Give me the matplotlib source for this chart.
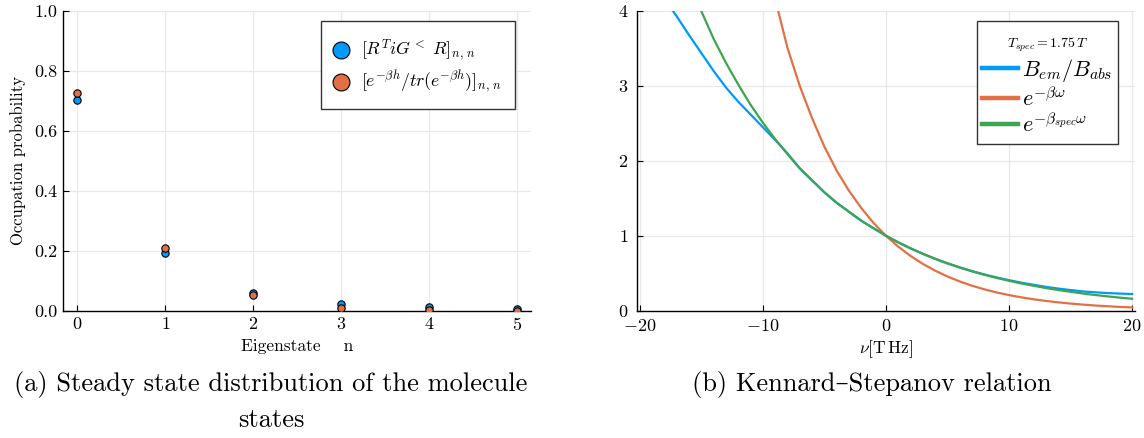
import numpy as np
import matplotlib.pyplot as plt
from matplotlib.patches import Rectangle

plt.rcParams['font.family'] = ['cmr10', 'DejaVu Serif']
plt.rcParams['mathtext.fontset'] = 'cm'
plt.rcParams['axes.formatter.use_mathtext'] = True

# occupation of the molecular eigenstates
states = [0, 1, 2, 3, 4, 5]
occ_green = [0.703, 0.194, 0.059, 0.021, 0.011, 0.007]
occ_boltz = [0.728, 0.209, 0.052, 0.010, 0.001, 0.0002]

# Kennard-Stepanov ratio vs frequency (THz)
nu_b = [-17.3, -17, -16, -15, -14, -13, -12, -11, -10, -9, -8, -7, -6, -5, -4, -3, -2, -1,
        0, 1, 2, 3, 4, 5, 6, 7, 8, 9, 10, 11, 12, 13, 14, 15, 16, 17, 18, 19, 20]
b_ratio = [4.0, 3.93, 3.68, 3.44, 3.20, 2.98, 2.79, 2.62, 2.45, 2.28, 2.10, 1.90, 1.74, 1.58,
           1.44, 1.32, 1.20, 1.10, 1.0, 0.912, 0.832, 0.759, 0.692, 0.632, 0.578, 0.528, 0.483,
           0.443, 0.407, 0.374, 0.345, 0.318, 0.295, 0.275, 0.257, 0.245, 0.235, 0.228, 0.222]

nu_o = [-8.75, -8, -7, -6, -5, -4, -3, -2, -1, 0, 1, 2, 3, 4, 5, 6, 7, 8, 9, 10,
        11, 12, 13, 14, 15, 16, 17, 18, 19, 20]
boltz = [4.0, 3.51, 3.00, 2.57, 2.19, 1.87, 1.60, 1.37, 1.17, 1.0, 0.855, 0.731, 0.625, 0.534,
         0.456, 0.390, 0.333, 0.285, 0.243, 0.208, 0.178, 0.152, 0.130, 0.111, 0.095, 0.081,
         0.069, 0.059, 0.050, 0.043]

nu_g = [-15, -14, -13, -12, -11, -10, -9, -8, -7, -6, -5, -4, -3, -2, -1, 0, 1, 2, 3, 4, 5,
        6, 7, 8, 9, 10, 11, 12, 13, 14, 15, 16, 17, 18, 19, 20]
boltz_spec = [4.0, 3.63, 3.31, 3.02, 2.75, 2.51, 2.29, 2.09, 1.90, 1.74, 1.58, 1.44, 1.32, 1.20,
              1.10, 1.0, 0.912, 0.832, 0.759, 0.692, 0.631, 0.576, 0.525, 0.479, 0.437, 0.399,
              0.363, 0.332, 0.302, 0.276, 0.252, 0.229, 0.209, 0.191, 0.174, 0.159]

c_blue = '#009AFA'
c_orange = '#E36F47'
c_green = '#3EA44E'

fig = plt.figure(figsize=(11.44, 4.38), dpi=100)
ax1 = fig.add_axes([0.0553, 0.2907, 0.4086, 0.6842])
ax2 = fig.add_axes([0.5566, 0.2907, 0.4356, 0.6842])


def style(ax):
    for s in ['top', 'right']:
        ax.spines[s].set_visible(False)
    for s in ['left', 'bottom']:
        ax.spines[s].set_linewidth(1.0)
    ax.grid(True, color='#e8e8e8', linewidth=0.9)
    ax.set_axisbelow(True)
    ax.tick_params(direction='in', length=4, width=0.8, labelsize=13, pad=4)


def legend_box(ax, x0, y0, x1, y1):
    # plain square frame behind a frameless legend
    ax.add_patch(Rectangle((x0, y0), x1 - x0, y1 - y0, transform=ax.transAxes,
                           facecolor='white', edgecolor='#333333', linewidth=1.0,
                           clip_on=False, zorder=4.5))


style(ax1)
ax1.scatter(states, occ_green, s=28, color=c_blue, edgecolor='black', linewidth=0.8,
            zorder=3, label=r'$[R^T iG^<\ R]_{n,\,n}$')
ax1.scatter(states, occ_boltz, s=28, color=c_orange, edgecolor='black', linewidth=0.8,
            zorder=3, label=r'$[e^{-\beta h}/tr(e^{-\beta h})]_{n,\,n}$')
ax1.set_xlim(-0.16, 5.15)
ax1.set_ylim(0, 1)
ax1.set_xticks(states)
ax1.set_yticks([0.0, 0.2, 0.4, 0.6, 0.8, 1.0])
ax1.set_yticklabels(['0.0', '0.2', '0.4', '0.6', '0.8', '1.0'])
ax1.set_xlabel('Eigenstate    n', fontsize=12.5, labelpad=4)
ax1.set_ylabel('Occupation probability', fontsize=12, labelpad=6)
legend_box(ax1, 0.551, 0.673, 0.966, 0.967)
ax1.legend(loc='upper left', bbox_to_anchor=(0.576, 0.912), fontsize=12.8,
           markerscale=2.3, frameon=False, borderpad=0, borderaxespad=0,
           handlelength=1.0, handletextpad=0.6, labelspacing=0.28)

style(ax2)
ax2.plot(nu_b, b_ratio, color=c_blue, linewidth=1.6, label=r'$B_{em}/B_{abs}$')
ax2.plot(nu_o, boltz, color=c_orange, linewidth=1.6, label=r'$e^{-\beta\omega}$')
ax2.plot(nu_g, boltz_spec, color=c_green, linewidth=1.6, label=r'$e^{-\beta_{spec}\omega}$')
ax2.set_xlim(-20.24, 20.24)
ax2.set_ylim(0, 4)
ax2.set_xticks([-20, -10, 0, 10, 20])
ax2.set_yticks([0, 1, 2, 3, 4])
ax2.tick_params(axis='x', pad=5.5)
ax2.tick_params(axis='y', pad=6)
ax2.set_xlabel(r'$\nu[\mathrm{T\,Hz}]$', fontsize=12.5, labelpad=3)
legend_box(ax2, 0.683, 0.556, 0.966, 0.967)
leg2 = ax2.legend(loc='upper left', bbox_to_anchor=(0.693, 0.916), fontsize=16,
                  title=r'$T_{spec}=1.75\,T$', title_fontsize=10, frameon=False,
                  borderpad=0, borderaxespad=0, handlelength=1.6, handletextpad=0.2,
                  labelspacing=0.1)
for ln in leg2.get_lines():
    ln.set_linewidth(3.2)

fig.text(0.237, 0.123, '(a) Steady state distribution of the molecule',
         ha='center', va='center', fontsize=19)
fig.text(0.237, 0.041, 'states', ha='center', va='center', fontsize=19)
fig.text(0.762, 0.123, '(b) Kennard–Stepanov relation', ha='center', va='center', fontsize=19)

fig.savefig('out.png', dpi=100)
